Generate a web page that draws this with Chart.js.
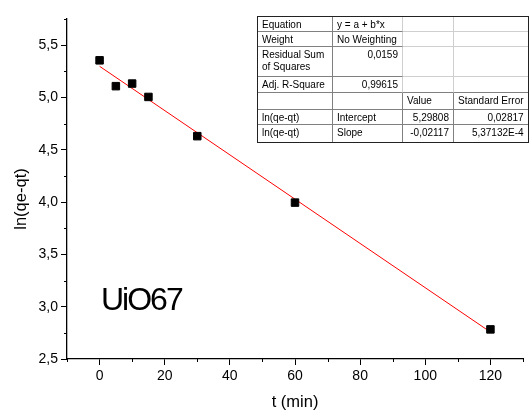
<!DOCTYPE html>
<html>
<head>
<meta charset="utf-8">
<script src="https://cdn.jsdelivr.net/npm/chart.js@4.4.1/dist/chart.umd.min.js"></script>
<style>
  body { margin: 0; background: #fff; }
  #wrap { position: relative; width: 531px; height: 412px; }
  #plot { position: absolute; left: 0; top: 0; }
  #fitTable {
    position: absolute; left: 257px; top: 16px;
    border-collapse: separate; border-spacing: 0;
    border: 1.5px solid #222; table-layout: fixed;
    font: 10px "Liberation Sans", Arial, sans-serif; color: #000;
  }
  #fitTable td {
    padding: 2px 4px 0 4px; line-height: 12px; vertical-align: top;
    border-right: 1px solid #808080; border-bottom: 1px solid #808080;
    white-space: nowrap; overflow: hidden; box-sizing: border-box;
  }
  #fitTable td.num { text-align: right; }
  #fitTable td.lightR { border-right-color: #cfcfcf; }
  #fitTable td.lightB { border-bottom-color: #cfcfcf; }
  #fitTable td.lastC { border-right: none; }
  #fitTable tr:last-child td { border-bottom: none; }
  #sample {
    position: absolute; left: 101px; top: 283px;
    font: 32px/32px "Liberation Sans", Arial, sans-serif;
    letter-spacing: -2px; color: #000;
  }
</style>
</head>
<body>
<div id="wrap">
  <canvas id="plot" width="531" height="412"></canvas>
  <table id="fitTable"></table>
  <div id="sample">UiO67</div>
</div>
<script>
// measured points
const timeMin = [0, 5, 10, 15, 30, 60, 120];
const lnQeQt = [5.355, 5.108, 5.133, 5.005, 4.63, 3.995, 2.783];

// linear fit endpoints (intercept 5.29808, slope -0.02117)
const fitTime = [0, 120];
const fitLn = [5.29808, 2.75768];

const X_MIN = -10, X_MAX = 130, X_STEP = 10, X_LABEL_EVERY = 20;
const Y_MIN = 2.5, Y_MAX = 5.75, Y_STEP = 0.25, Y_LABEL_EVERY = 0.5;

const fitRows = [
  ["Equation", "y = a + b*x", "", ""],
  ["Weight", "No Weighting", "", ""],
  ["Residual Sum of Squares", "0,0159", "", ""],
  ["Adj. R-Square", "0,99615", "", ""],
  ["", "", "Value", "Standard Error"],
  ["ln(qe-qt)", "Intercept", "5,29808", "0,02817"],
  ["ln(qe-qt)", "Slope", "-0,02117", "5,37132E-4"],
];
const colWidths = [75, 70, 51, 73];
const rowHeights = [15, 15, 30, 16, 17, 15, 17];

const FONT = "'Liberation Sans', Arial, sans-serif";

function buildTable() {
  const table = document.getElementById("fitTable");
  let html = "<colgroup>";
  for (const w of colWidths) html += `<col style="width:${w}px">`;
  html += "</colgroup>";
  fitRows.forEach((row, r) => {
    html += `<tr style="height:${rowHeights[r]}px">`;
    row.forEach((text, c) => {
      const cls = [];
      if (/^-?[\d,]+(E-?\d+)?$/.test(text)) cls.push("num");
      if (r < 4 && c >= 1) cls.push("lightR");
      if (r < 3 && c >= 2) cls.push("lightB");
      if (c === row.length - 1) cls.push("lastC");
      const label = text === "Residual Sum of Squares" ? "Residual Sum<br>of Squares" : text;
      html += `<td class="${cls.join(" ")}">${label}</td>`;
    });
    html += "</tr>";
  });
  table.innerHTML = html;
}

function isMultiple(v, step) {
  const q = v / step;
  return Math.abs(q - Math.round(q)) < 1e-9;
}

// short ticks for unlabeled values, plus the rotated y title
const extrasPlugin = {
  id: "extras",
  afterDraw(chart) {
    const ctx = chart.ctx;
    const x = chart.scales.x;
    const y = chart.scales.y;
    ctx.save();
    ctx.strokeStyle = "#000";
    ctx.lineWidth = 1;
    ctx.beginPath();
    x.ticks.forEach((t) => {
      if (isMultiple(t.value, X_LABEL_EVERY)) return;
      const px = Math.round(x.getPixelForValue(t.value)) + 0.5;
      ctx.moveTo(px, x.top);
      ctx.lineTo(px, x.top + 3);
    });
    y.ticks.forEach((t) => {
      if (isMultiple(t.value, Y_LABEL_EVERY)) return;
      const py = Math.round(y.getPixelForValue(t.value)) + 0.5;
      ctx.moveTo(y.right, py);
      ctx.lineTo(y.right - 3, py);
    });
    ctx.stroke();

    ctx.translate(21, 199);
    ctx.rotate(-Math.PI / 2);
    ctx.fillStyle = "#000";
    ctx.font = `16.5px ${FONT}`;
    ctx.textAlign = "center";
    ctx.textBaseline = "middle";
    ctx.fillText("ln(qe-qt)", 0, 0);
    ctx.restore();
  },
};

function buildChart() {
  const points = timeMin.map((t, i) => ({ x: t, y: lnQeQt[i] }));
  const fit = fitTime.map((t, i) => ({ x: t, y: fitLn[i] }));

  new Chart(document.getElementById("plot"), {
    type: "scatter",
    data: {
      datasets: [
        {
          type: "line",
          data: fit,
          borderColor: "#ff0000",
          borderWidth: 1,
          pointRadius: 0,
          fill: false,
          order: 2,
        },
        {
          data: points,
          pointStyle: "rect",
          pointRadius: 5.3,
          backgroundColor: "#000",
          borderColor: "#000",
          borderWidth: 1,
          order: 1,
        },
      ],
    },
    options: {
      responsive: false,
      animation: false,
      layout: { padding: { top: 19, right: 8, left: 0, bottom: 0 } },
      plugins: { legend: { display: false }, tooltip: { enabled: false } },
      scales: {
        x: {
          type: "linear",
          min: X_MIN,
          max: X_MAX,
          afterFit: (scale) => { scale.height = 53; },
          border: { color: "#000", width: 1.3 },
          grid: {
            drawOnChartArea: false,
            tickLength: 6,
            tickColor: (c) => (c.tick && isMultiple(c.tick.value, X_LABEL_EVERY) ? "#000" : "rgba(0,0,0,0)"),
          },
          ticks: {
            stepSize: X_STEP,
            autoSkip: false,
            maxRotation: 0,
            padding: 3,
            color: "#000",
            font: { family: FONT, size: 14 },
            callback: (v) => (isMultiple(v, X_LABEL_EVERY) ? String(v) : ""),
          },
          title: {
            display: true,
            text: "t (min)",
            color: "#000",
            font: { family: FONT, size: 16.5 },
            padding: { top: 0, bottom: 0 },
          },
        },
        y: {
          type: "linear",
          min: Y_MIN,
          max: Y_MAX,
          afterFit: (scale) => { scale.width = 67; },
          border: { color: "#000", width: 1.3 },
          grid: {
            drawOnChartArea: false,
            tickLength: 6,
            tickColor: (c) => (c.tick && isMultiple(c.tick.value, Y_LABEL_EVERY) ? "#000" : "rgba(0,0,0,0)"),
          },
          ticks: {
            stepSize: Y_STEP,
            autoSkip: false,
            padding: 3,
            color: "#000",
            font: { family: FONT, size: 14 },
            callback: (v) => (isMultiple(v, Y_LABEL_EVERY) ? v.toFixed(1).replace(".", ",") : ""),
          },
        },
      },
    },
    plugins: [extrasPlugin],
  });
}

buildTable();
buildChart();
</script>
</body>
</html>
